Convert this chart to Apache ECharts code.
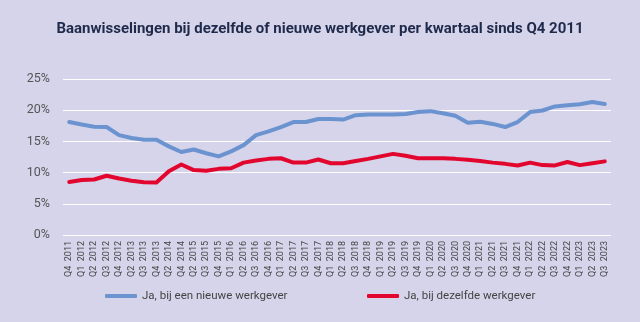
<!DOCTYPE html>
<html>
<head>
<meta charset="utf-8">
<script src="https://cdn.jsdelivr.net/npm/echarts@6/dist/echarts.min.js"></script>
<style>
  html, body { margin: 0; padding: 0; background: #d6d4eb; }
  #chart { width: 640px; height: 322px; }
</style>
</head>
<body>
<div id="chart"></div>
<script>
// Quarters shown on the x axis
const quarters = [
  'Q4 2011', 'Q1 2012', 'Q2 2012', 'Q3 2012', 'Q4 2012', 'Q2 2013', 'Q3 2013', 'Q4 2013',
  'Q2 2014', 'Q4 2014', 'Q2 2015', 'Q3 2015', 'Q4 2015', 'Q1 2016', 'Q2 2016', 'Q3 2016',
  'Q4 2016', 'Q1 2017', 'Q2 2017', 'Q3 2017', 'Q4 2017', 'Q1 2018', 'Q2 2018', 'Q3 2018',
  'Q4 2018', 'Q1 2019', 'Q2 2019', 'Q3 2019', 'Q4 2019', 'Q1 2020', 'Q2 2020', 'Q3 2020',
  'Q4 2020', 'Q1 2021', 'Q2 2021', 'Q3 2021', 'Q4 2021', 'Q1 2022', 'Q2 2022', 'Q3 2022',
  'Q4 2022', 'Q1 2023', 'Q2 2023', 'Q3 2023'
];

// Share of job changes (%) - with a new employer
const nieuweWerkgever = [
  18.1, 17.7, 17.35, 17.3, 16.0, 15.55, 15.25, 15.25, 14.2, 13.3, 13.7, 13.1,
  12.6, 13.4, 14.4, 16.0, 16.6, 17.3, 18.1, 18.1, 18.6, 18.6, 18.5, 19.2,
  19.3, 19.3, 19.3, 19.4, 19.7, 19.85, 19.5, 19.1, 18.0, 18.15, 17.8, 17.3,
  18.1, 19.7, 19.95, 20.6, 20.8, 20.95, 21.3, 21.0
];

// Share of job changes (%) - with the same employer
const zelfdeWerkgever = [
  8.5, 8.8, 8.9, 9.5, 9.05, 8.7, 8.45, 8.4, 10.2, 11.3, 10.4, 10.3,
  10.6, 10.7, 11.6, 11.95, 12.2, 12.3, 11.6, 11.6, 12.1, 11.5, 11.5, 11.85,
  12.2, 12.6, 13.0, 12.7, 12.3, 12.3, 12.3, 12.2, 12.05, 11.85, 11.6, 11.4,
  11.15, 11.6, 11.2, 11.15, 11.7, 11.2, 11.5, 11.8
];

const yTicks = [0, 5, 10, 15, 20, 25];

const seriesNames = ['Ja, bij een nieuwe werkgever', 'Ja, bij dezelfde werkgever'];
const seriesColors = ['#6b93cf', '#e2062e'];

const chart = echarts.init(document.getElementById('chart'), null, { renderer: 'canvas' });

const legendText = { color: '#444', fontSize: 11.5, fontFamily: 'Roboto, sans-serif' };

chart.setOption({
  backgroundColor: '#d6d4eb',
  animation: false,
  title: {
    text: 'Baanwisselingen bij dezelfde of nieuwe werkgever per kwartaal sinds Q4 2011',
    left: 'center',
    top: 17,
    textStyle: {
      color: '#1f2a4b',
      fontSize: 15,
      fontWeight: 'bold',
      fontFamily: 'Roboto, sans-serif'
    }
  },
  legend: [
    {
      data: [seriesNames[0]],
      left: 100,
      top: 285,
      icon: 'roundRect',
      itemWidth: 32,
      itemHeight: 4,
      itemGap: 6,
      textStyle: legendText
    },
    {
      data: [seriesNames[1]],
      left: 362,
      top: 285,
      icon: 'roundRect',
      itemWidth: 32,
      itemHeight: 4,
      itemGap: 6,
      textStyle: legendText
    }
  ],
  grid: { left: 63, right: 29, top: 79, bottom: 87, containLabel: false },
  xAxis: {
    type: 'category',
    data: quarters,
    boundaryGap: true,
    axisLine: { show: false },
    axisTick: { show: false },
    axisLabel: {
      interval: 0,
      rotate: 90,
      fontSize: 9,
      color: '#444',
      margin: 6,
      fontFamily: 'Roboto, sans-serif',
      formatter: v => v.replace(' ', '  ')
    }
  },
  yAxis: {
    type: 'value',
    min: yTicks[0],
    max: yTicks[yTicks.length - 1],
    interval: 5,
    axisLine: { show: false },
    axisTick: { show: false },
    splitLine: { lineStyle: { color: '#ffffff', width: 1 } },
    axisLabel: {
      formatter: '{value}%',
      color: '#555',
      fontSize: 12.5,
      margin: 13,
      fontFamily: 'Roboto, sans-serif'
    }
  },
  series: [
    {
      name: seriesNames[0],
      type: 'line',
      data: nieuweWerkgever,
      color: seriesColors[0],
      symbol: 'none',
      lineStyle: { width: 4, color: seriesColors[0], cap: 'round', join: 'round' }
    },
    {
      name: seriesNames[1],
      type: 'line',
      data: zelfdeWerkgever,
      color: seriesColors[1],
      symbol: 'none',
      lineStyle: { width: 4, color: seriesColors[1], cap: 'round', join: 'round' }
    }
  ]
});
</script>
</body>
</html>
